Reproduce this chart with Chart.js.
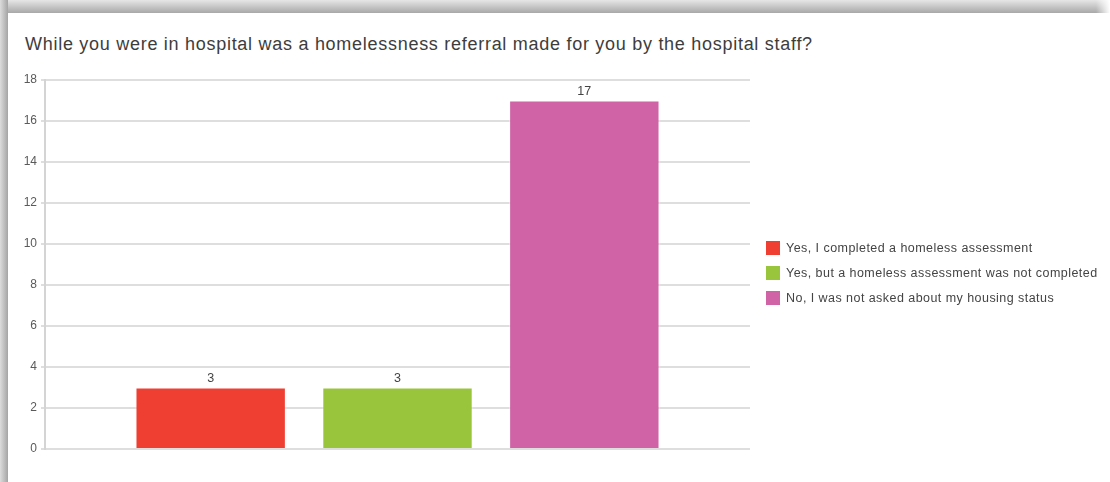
<!DOCTYPE html>
<html>
<head>
<meta charset="utf-8">
<script src="https://cdn.jsdelivr.net/npm/chart.js@4/dist/chart.umd.min.js"></script>
<style>
  html, body { margin: 0; padding: 0; background: #fff; }
  #wrap { position: relative; width: 1110px; height: 482px; overflow: hidden; font-family: "Liberation Sans", Arial, sans-serif; }
  /* sombra del marco superior e izquierdo */
  #sombraTop { position: absolute; left: 0; top: 0; width: 1110px; height: 13px;
    background: linear-gradient(to bottom, #e6e6e6, #a8a8a8); }
  #sombraTopFin { position: absolute; right: 0; top: 0; width: 14px; height: 13px;
    background: linear-gradient(to right, rgba(255,255,255,0), #fff); }
  #sombraIzq { position: absolute; left: 0; top: 0; width: 8px; height: 482px;
    background: linear-gradient(to right, #dcdcdc, #a4a4a4); }
  #tarjeta { position: absolute; left: 8px; top: 13px; right: 0; bottom: 0; background: #fff; }
  #titulo { position: absolute; left: 25px; top: 34px; font-size: 18px; letter-spacing: 0.72px; color: #3d3d3d; white-space: nowrap; }
  canvas { position: absolute; left: 0; top: 0; }
  #leyenda { position: absolute; left: 766px; top: 241px; font-size: 12.5px; color: #444; }
  .item { height: 25px; display: flex; align-items: flex-start; }
  .caja { width: 14px; height: 14px; margin-right: 6px; flex: none; }
  .texto { line-height: 14px; letter-spacing: 0.45px; }
</style>
</head>
<body>
<div id="wrap">
  <div id="sombraTop"></div>
  <div id="sombraTopFin"></div>
  <div id="sombraIzq"></div>
  <div id="tarjeta"></div>
  <div id="titulo">While you were in hospital was a homelessness referral made for you by the hospital staff?</div>
  <canvas id="grafico" width="1110" height="482"></canvas>
  <div id="leyenda"></div>
</div>
<script>
// Respuestas de la encuesta
const respuestas = [
  'Yes, I completed a homeless assessment',
  'Yes, but a homeless assessment was not completed',
  'No, I was not asked about my housing status'
];
const conteos = [3, 3, 17];
const colores = ['#ef3e32', '#99c53c', '#d062a6'];
const ticksY = [0, 2, 4, 6, 8, 10, 12, 14, 16, 18];

// Leyenda en HTML a la derecha
const leyenda = document.getElementById('leyenda');
respuestas.forEach((r, i) => {
  const fila = document.createElement('div');
  fila.className = 'item';
  fila.innerHTML = `<span class="caja" style="background:${colores[i]}"></span><span class="texto">${r}</span>`;
  leyenda.appendChild(fila);
});

// Etiquetas con el valor encima de cada barra
const etiquetasValor = {
  id: 'etiquetasValor',
  afterDatasetsDraw(chart) {
    const ctx = chart.ctx;
    ctx.save();
    ctx.font = '12.5px "Liberation Sans", Arial, sans-serif';
    ctx.fillStyle = '#444';
    ctx.textAlign = 'center';
    ctx.textBaseline = 'bottom';
    chart.data.datasets.forEach((ds, i) => {
      chart.getDatasetMeta(i).data.forEach((bar, j) => {
        ctx.fillText(ds.data[j], bar.x, bar.y - 3);
      });
    });
    ctx.restore();
  }
};

const ctxGrafico = document.getElementById('grafico').getContext('2d');
new Chart(ctxGrafico, {
  type: 'bar',
  data: {
    labels: [''],
    datasets: respuestas.map((r, i) => ({
      label: r,
      data: [conteos[i]],
      backgroundColor: colores[i],
      borderColor: 'rgba(255,255,255,0.35)',
      borderWidth: 1,
      categoryPercentage: 0.795,
      barPercentage: 0.805
    }))
  },
  options: {
    responsive: false,
    animation: false,
    layout: { padding: { left: 0, top: 80, right: 360, bottom: 33 } },
    plugins: {
      legend: { display: false },
      tooltip: { enabled: false }
    },
    scales: {
      x: {
        grid: { display: false },
        border: { display: false },
        ticks: { display: false },
        afterFit(scale) { scale.height = 0; }
      },
      y: {
        min: 0,
        max: 18,
        afterBuildTicks(scale) { scale.ticks = ticksY.map(v => ({ value: v })); },
        afterFit(scale) { scale.width = 45; },
        ticks: {
          padding: 4,
          color: '#5a5a5a',
          font: { family: '"Liberation Sans", Arial, sans-serif', size: 12 }
        },
        grid: { color: '#dedede', lineWidth: 2, tickLength: 4 },
        border: { color: '#d4d4d4', width: 2 }
      }
    }
  },
  plugins: [etiquetasValor]
});
</script>
</body>
</html>
